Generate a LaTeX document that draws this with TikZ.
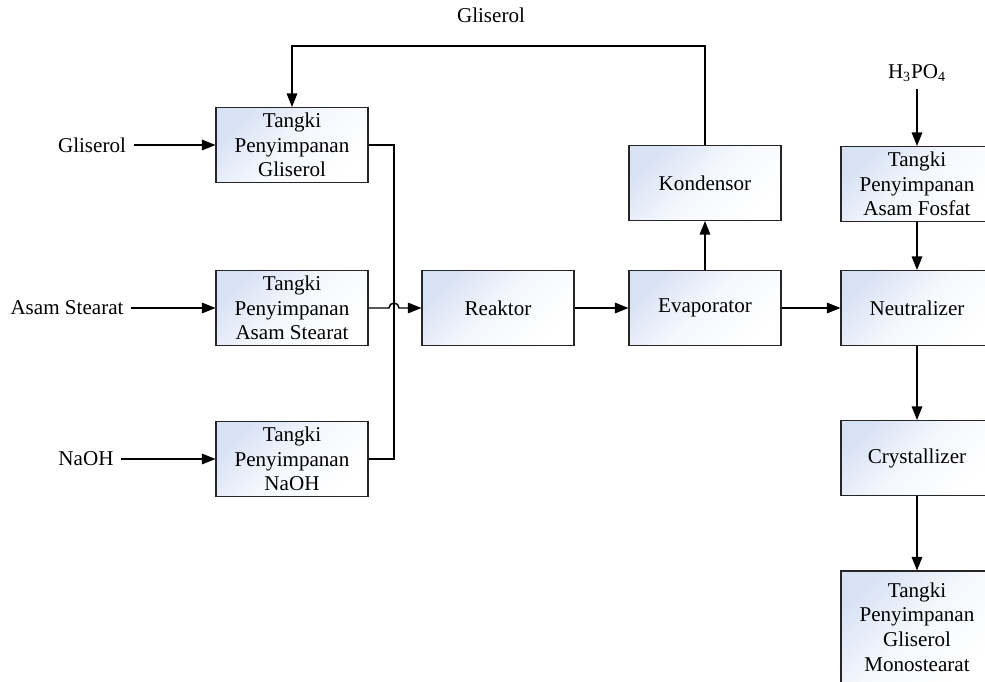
\documentclass[tikz,border=0pt]{standalone}
\usepackage{fontspec}
\setmainfont{Liberation Serif}
\usetikzlibrary{arrows.meta}
\newcommand\PxUnit{0.02cm}
\definecolor{tankblue}{RGB}{216,226,245}
\tikzset{
  unit/.style={
    shape = rectangle,
    draw = black!85,
    line width = 0.6pt,
    top color = tankblue,
    bottom color = white,
    middle color = tankblue!25,
    shading angle = 45,
    minimum width = 3.04cm,
    minimum height = 1.5cm,
    inner sep = 0.05cm,
    align = center,
    font = \fontsize{12}{14}\selectfont
  },
}
\tikzset{
  stream/.style={
    line width = 0.8pt,
    -{Triangle[length=0.27cm,width=0.21cm]}
  },
  pipe/.style={
    line width = 0.8pt
  },
  lbl/.style={
    font = \fontsize{12}{14}\selectfont,
    inner sep = 0.15cm
  }
}

\begin{document}
\begin{tikzpicture}[x=\PxUnit,y=-\PxUnit]
    \useasboundingbox (0,0) rectangle (985,681);
    \clip (0,0) rectangle (985,681);

    \node[unit] (tankGl) at (292,145) {Tangki\\Penyimpanan\\Gliserol};
    \node[unit] (tankAS) at (292,308) {Tangki\\Penyimpanan\\Asam Stearat};
    \node[unit] (tankNa) at (292,459) {Tangki\\Penyimpanan\\NaOH};

    \node[unit] (reaktor) at (498,308) {Reaktor};
    \node[unit] (evap) at (705,308) {Evaporator};
    \node[unit] (kond) at (705,183) {Kondensor};

    \node[unit] (tankAF) at (917,184) {Tangki\\Penyimpanan\\Asam Fosfat};
    \node[unit] (neut) at (917,308) {Neutralizer};
    \node[unit] (cryst) at (917,458) {Crystallizer};
    \node[unit, minimum height=2.24cm] (tankGM) at (917,627) {Tangki\\Penyimpanan\\Gliserol\\Monostearat};

    \node[lbl] (inGl) at (92,145) {Gliserol};
    \node[lbl] (inAS) at (67,308) {Asam Stearat};
    \node[lbl] (inNa) at (86,459) {NaOH};
    \node[lbl] (inH) at (917,73) {H\textsubscript{3}PO\textsubscript{4}};
    \node[lbl] (recGl) at (491,15) {Gliserol};

    \draw[stream] (inGl.east) -- (tankGl.west);
    \draw[stream] (inAS.east) -- (tankAS.west);
    \draw[stream] (inNa.east) -- (tankNa.west);

    % feed header to the reactor
    \coordinate (bus) at (394,308);
    \draw[pipe] (tankGl.east) -| (bus);
    \draw[pipe] (tankNa.east) -| (bus);
    \draw[stream] (tankAS.east) -- ([xshift=-0.1cm]bus) arc (180:0:0.1cm) -- (reaktor.west);

    \draw[stream] (reaktor.east) -- (evap.west);
    \draw[stream] (evap.east) -- (neut.west);
    \draw[stream] (evap.north) -- (kond.south);

    % glycerol recycle
    \coordinate (loop) at (0,46);
    \draw[stream] (kond.north) |- (tankGl.north |- loop) -- (tankGl.north);

    \draw[stream] (inH) -- (tankAF.north);
    \draw[stream] (tankAF.south) -- (neut.north);
    \draw[stream] (neut.south) -- (cryst.north);
    \draw[stream] (cryst.south) -- (tankGM.north);
\end{tikzpicture}
\end{document}
